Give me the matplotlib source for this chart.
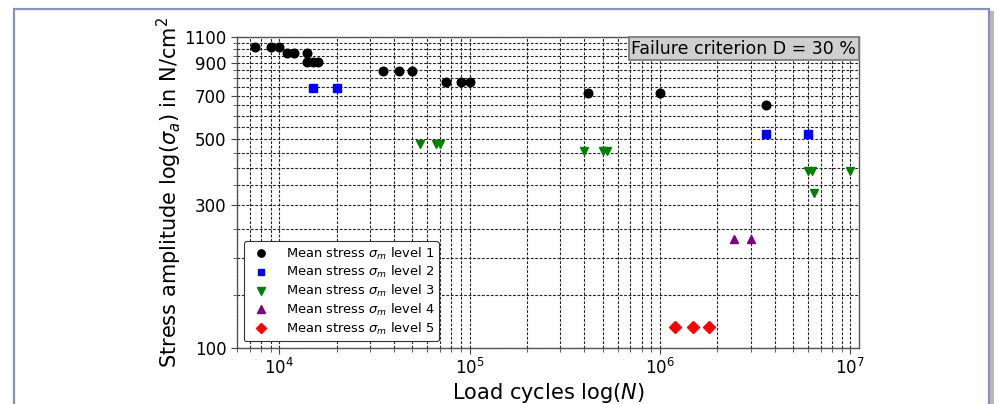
import matplotlib
matplotlib.use("Agg")
import matplotlib.pyplot as plt
from matplotlib.ticker import FixedLocator, FixedFormatter, MultipleLocator, NullFormatter, LogLocator
from matplotlib.offsetbox import AnchoredText
from matplotlib.patches import Rectangle

# ---- data ----
n_level1 = [7500, 9000, 10000, 11000, 12000, 14000, 14000, 15000, 16000,
            35000, 42500, 50000, 75000, 90000, 100000, 420000, 1000000, 3600000]
s_level1 = [1020, 1020, 1020, 975, 975, 975, 910, 910, 910,
            846, 846, 846, 780, 780, 780, 715, 715, 650]

n_level2 = [15000, 20000, 3600000, 6000000]
s_level2 = [740, 740, 520, 520]

n_level3 = [55000, 67000, 70000, 400000, 500000, 525000, 6000000, 6300000, 10000000, 6450000]
s_level3 = [481, 481, 481, 456, 456, 456, 392, 392, 392, 329]

n_level4 = [2450000, 3000000]
s_level4 = [232, 232]

n_level5 = [1200000, 1500000, 1800000]
s_level5 = [117, 117, 117]

labels = [r"Mean stress $\sigma_m$ level 1", r"Mean stress $\sigma_m$ level 2",
          r"Mean stress $\sigma_m$ level 3", r"Mean stress $\sigma_m$ level 4",
          r"Mean stress $\sigma_m$ level 5"]
y_ticks = [100, 300, 500, 700, 900, 1100]
annotation = "Failure criterion D = 30 %"

# ---- figure ----
fig = plt.figure(figsize=(10.05, 4.04), dpi=100)
ax = fig.add_axes([237/1005, 1-347.7/404, (858.6-237)/1005, (347.7-37)/404])

series = [(n_level1, s_level1, 'o', 'black', 6.2),
          (n_level2, s_level2, 's', 'blue', 5.8),
          (n_level3, s_level3, 'v', 'green', 6.3),
          (n_level4, s_level4, '^', 'purple', 6.3),
          (n_level5, s_level5, 'D', 'red', 5.8)]
for (xs, ys, m, c, ms), lab in zip(series, labels):
    ax.plot(xs, ys, linestyle='none', marker=m, color=c, markersize=ms, label=lab, zorder=3)

ax.set_xscale('log')
ax.set_yscale('log')
ax.set_xlim(6000, 1.105e7)
ax.set_ylim(100, 1100)

ax.yaxis.set_major_locator(FixedLocator(y_ticks))
ax.yaxis.set_major_formatter(FixedFormatter([str(v) for v in y_ticks]))
ax.yaxis.set_minor_locator(MultipleLocator(50))
ax.yaxis.set_minor_formatter(NullFormatter())
ax.xaxis.set_major_locator(LogLocator(base=10, numticks=10))
ax.xaxis.set_minor_locator(LogLocator(base=10, subs=range(2, 10), numticks=20))
ax.xaxis.set_minor_formatter(NullFormatter())

ax.grid(True, which='both', linestyle=(0, (2.5, 1.5)), color='#222222', linewidth=0.8)
ax.set_axisbelow(True)

ax.tick_params(which='major', labelsize=12, length=4, color='#444444')
ax.tick_params(which='minor', length=3, color='#444444')
for sp in ax.spines.values():
    sp.set_color('#555555')
    sp.set_linewidth(1.0)

ax.set_xlabel(r"Load cycles log($N$)", fontsize=15, labelpad=2)
ax.set_ylabel(r"Stress amplitude log($\sigma_a$) in N/cm$^2$", fontsize=15, labelpad=0)

leg = ax.legend(loc='lower left', fontsize=9.4, numpoints=1, framealpha=1,
                edgecolor='#333333', fancybox=True, labelspacing=0.2,
                markerscale=0.85, borderpad=0.35, borderaxespad=0.5,
                handletextpad=0.9)
leg.get_frame().set_linewidth(0.8)

at = AnchoredText(annotation, loc='upper right', pad=0.15, borderpad=0,
                  prop=dict(size=12.5), frameon=True)
at.patch.set_facecolor('#cfcfcf')
at.patch.set_edgecolor('#777777')
at.patch.set_linewidth(1.2)
at.set_zorder(5)
ax.add_artist(at)

# decorative outer frame
fig.patches.append(Rectangle((990/1005, -0.1), 4/1005, (404-11)/404 + 0.1,
                             transform=fig.transFigure, facecolor='#b8b8b8',
                             edgecolor='none', zorder=0))
fig.patches.append(Rectangle((14/1005, -0.1), (989-14)/1005, (404-8.5)/404 + 0.1,
                             transform=fig.transFigure, fill=False,
                             edgecolor='#8592b5', linewidth=1.6, zorder=1))

fig.savefig("out.png", dpi=100)
